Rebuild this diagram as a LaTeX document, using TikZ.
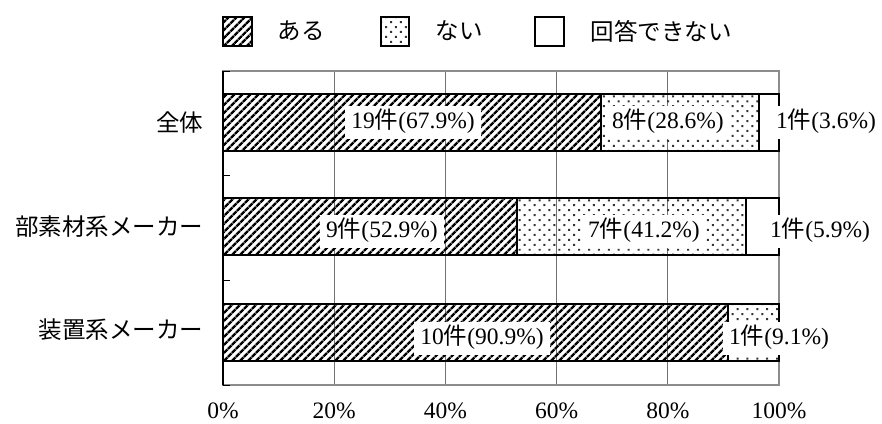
\documentclass[tikz,border=0pt]{standalone}
\usepackage{fontspec}
\setmainfont{Liberation Serif}
\newfontfamily\jp{Noto Sans CJK JP}
\usetikzlibrary{patterns.meta}

\tikzset{
  ari/.style={pattern={Lines[angle=45,distance=5.4pt,line width=2.7pt]}},
  nai/.style={pattern={Dots[angle=45,distance=7pt,radius=1.4pt]},pattern color=black!80},
  barbox/.style={draw=black,line width=2pt},
  keybox/.style={draw=black,line width=1.5pt},
  barlabel/.style={fill=white,inner xsep=6pt,inner ysep=6.5pt,text height=16pt,text depth=4pt},
  gridline/.style={draw=black!55,line width=0.8pt},
  frame/.style={draw=black!45,line width=1.5pt}
}

\begin{document}
\begin{tikzpicture}[x=1pt,y=-1pt,font=\fontsize{23.5}{28}\selectfont]
    \useasboundingbox (0,0) rectangle (882,423) ;
    % legend
    \draw[keybox,ari] (223,17) rectangle (252,46) ;
    \node (keyari) at (301,31) {\jp ある} ;
    \draw[keybox,nai] (381,17) rectangle (409,46) ;
    \node (keynai) at (459,31) {\jp ない} ;
    \draw[keybox,fill=white] (535,17) rectangle (564,46) ;
    \node[anchor=west] (keyna) at (587,31) {\jp 回答できない} ;
    % plot area
    \foreach \p in {20,40,60,80}
      \draw[gridline] ({223+5.56*\p},71) -- ({223+5.56*\p},385) ;
    \draw[frame] (223,71) rectangle (779,385) ;
    \draw[black,line width=1.5pt] (223,71) -- (223,385) ;
    \foreach \y in {71,175.7,280.3,385}
      \draw[black,line width=1pt] (223,\y) -- (230,\y) ;
    % 全体
    \draw[barbox,ari] (223,94) rectangle (600.5,151) ;
    \draw[barbox,nai] (600.5,94) rectangle (759,151) ;
    \draw[barbox,fill=white] (759,94) rectangle (779,151) ;
    % 部素材系メーカー
    \draw[barbox,ari] (223,198) rectangle (517,255) ;
    \draw[barbox,nai] (517,198) rectangle (746,255) ;
    \draw[barbox,fill=white] (746,198) rectangle (779,255) ;
    % 装置系メーカー
    \draw[barbox,ari] (223,304) rectangle (728.4,361) ;
    \draw[barbox,nai] (728.4,304) rectangle (779,361) ;
    % bar labels
    \node[barlabel] (all1) at (413,122.5) {19{\jp 件}(67.9\%)} ;
    \node[barlabel] (all2) at (668,122.5) {8{\jp 件}(28.6\%)} ;
    \node[barlabel] (all3) at (826,122.5) {1{\jp 件}(3.6\%)} ;
    \node[barlabel] (part1) at (382,231) {9{\jp 件}(52.9\%)} ;
    \node[barlabel] (part2) at (644,231) {7{\jp 件}(41.2\%)} ;
    \node[barlabel] (part3) at (820,231) {1{\jp 件}(5.9\%)} ;
    \node[barlabel] (equip1) at (482,338) {10{\jp 件}(90.9\%)} ;
    \node[barlabel] (equip2) at (779,338) {1{\jp 件}(9.1\%)} ;
    % categories
    \node[anchor=east] (catall) at (207,123) {\jp 全体} ;
    \node[anchor=east] (catpart) at (207,227) {\jp 部素材系メーカー} ;
    \node[anchor=east] (catequip) at (207,330) {\jp 装置系メーカー} ;
    % axis
    \foreach \p in {0,20,...,100}
      \node[inner sep=1pt] (tick\p) at ({223+5.56*\p},411) {\p\%} ;
\end{tikzpicture}
\end{document}
